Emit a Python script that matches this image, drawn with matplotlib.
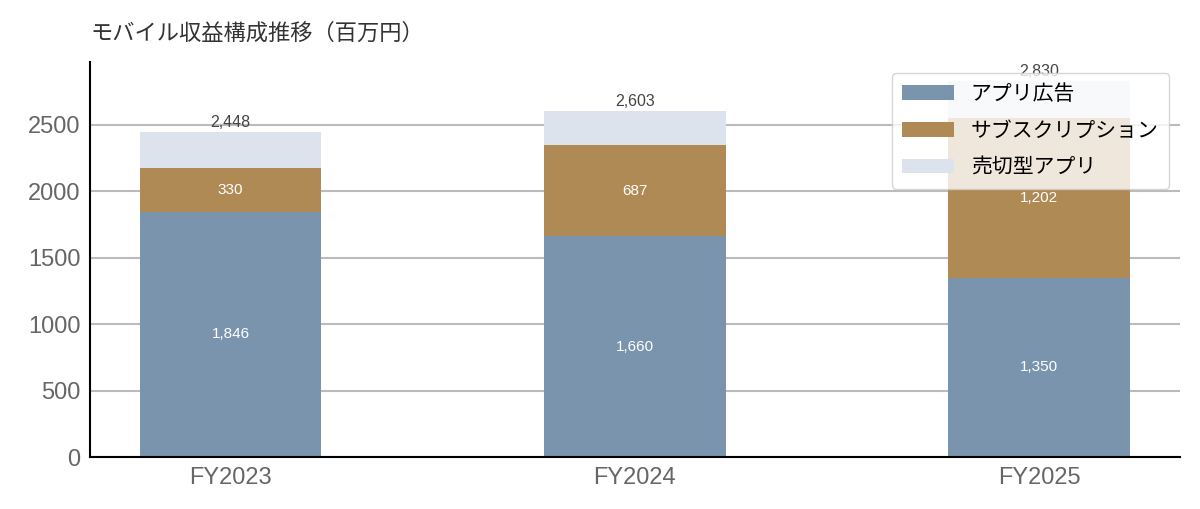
import matplotlib
matplotlib.use('Agg')
import matplotlib.pyplot as plt
import numpy as np

plt.rcParams['font.family'] = ['Liberation Sans', 'Noto Sans CJK JP', 'DejaVu Sans']

years = ['FY2023', 'FY2024', 'FY2025']
app_ads = [1846, 1660, 1350]
subscription = [330, 687, 1202]
paid_apps = [272, 256, 278]
series_names = ['アプリ広告', 'サブスクリプション', '売切型アプリ']
colors = ['#7a94ae', '#b08a55', '#dde3ec']

fig = plt.figure(figsize=(12, 5.09), dpi=100)
ax = fig.add_axes([0.075, 0.102, 0.908, 0.776])

x = np.arange(len(years))
width = 0.45
bottom = np.zeros(len(years))
for name, vals, c in zip(series_names, [app_ads, subscription, paid_apps], colors):
    ax.bar(x, vals, width, bottom=bottom, color=c, label=name, zorder=2)
    if name != '売切型アプリ':
        for xi, b, v in zip(x, bottom, vals):
            ax.text(xi, b + v / 2, f'{v:,}', ha='center', va='center',
                    color='white', fontsize=11, zorder=3)
    bottom = bottom + np.array(vals)

for xi, tot in zip(x, bottom):
    ax.text(xi, tot + 12, f'{int(tot):,}', ha='center', va='bottom',
            color='#444444', fontsize=11.5, zorder=3)

ax.set_ylim(0, bottom.max() * 1.05)
ax.set_xticks(x)
ax.set_xticklabels(years)
ax.tick_params(length=0, labelsize=17, labelcolor='#666666')
ax.tick_params(axis='y', pad=7)
ax.tick_params(axis='x', pad=7)
ax.yaxis.grid(True, color='#bbbbbb', linewidth=1.5, zorder=0)
ax.set_axisbelow(True)
for s in ['top', 'right']:
    ax.spines[s].set_visible(False)
ax.spines['left'].set_linewidth(1.5)
ax.spines['bottom'].set_linewidth(1.5)

ax.set_title('モバイル収益構成推移（百万円）', loc='left', fontsize=16,
             color='#333333', pad=16, family=['Noto Sans CJK JP'])
ax.legend(loc='upper right', handlelength=2.5, framealpha=0.8,
          labelspacing=0.7, borderpad=0.5,
          prop={'family': ['Noto Sans CJK JP'], 'size': 15})

fig.savefig('out.png', dpi=100)
